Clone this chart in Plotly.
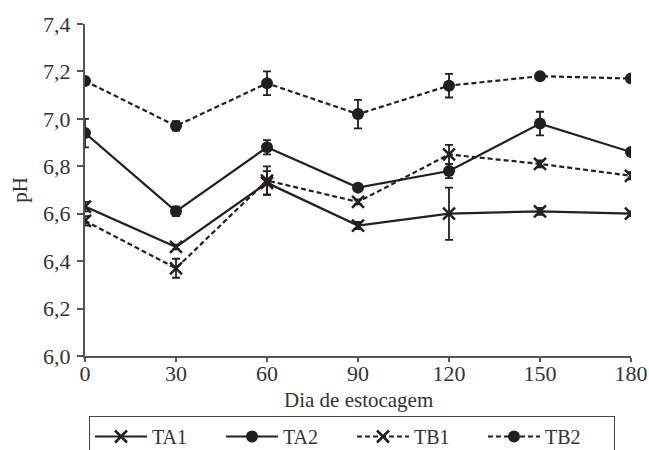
import plotly.graph_objects as go

days = [0, 30, 60, 90, 120, 150, 180]
ta1 = [6.63, 6.46, 6.73, 6.55, 6.60, 6.61, 6.60]
ta1_err = [0.02, 0.01, 0.05, 0.015, 0.11, 0.015, 0.01]
ta2 = [6.94, 6.61, 6.88, 6.71, 6.78, 6.98, 6.86]
ta2_err = [0.06, 0.02, 0.03, 0.015, 0.03, 0.05, 0.015]
tb1 = [6.57, 6.37, 6.74, 6.65, 6.85, 6.81, 6.76]
tb1_err = [0.02, 0.04, 0.06, 0.01, 0.04, 0.015, 0.015]
tb2 = [7.16, 6.97, 7.15, 7.02, 7.14, 7.18, 7.17]
tb2_err = [0.01, 0.02, 0.05, 0.06, 0.05, 0.01, 0.015]

LC = "#231f20"
series = [
    ("TA1", ta1, ta1_err, "solid", "x-thin"),
    ("TA2", ta2, ta2_err, "solid", "circle"),
    ("TB1", tb1, tb1_err, "5px,3px", "x-thin"),
    ("TB2", tb2, tb2_err, "5px,3px", "circle"),
]

fig = go.Figure()
for name, y, e, dash, sym in series:
    if sym == "circle":
        marker = dict(symbol="circle", size=12, color=LC)
    else:
        marker = dict(symbol="x-thin", size=12, color=LC, line=dict(color=LC, width=2.5))
    fig.add_trace(go.Scatter(
        x=days, y=y, name=name, mode="lines+markers",
        line=dict(color=LC, width=2.2, dash=dash),
        marker=marker,
        error_y=dict(type="data", array=e, visible=True, color=LC, thickness=1.8, width=4),
    ))

FAM = "Liberation Serif, Times New Roman, serif"
TXT = "#333333"
W, H = 649, 450
fig.update_layout(
    width=W, height=H,
    margin=dict(l=85, r=18, t=24, b=94),
    plot_bgcolor="white", paper_bgcolor="white",
    separators=",.",
    font=dict(family=FAM, color=TXT, size=21),
    showlegend=True,
    legend=dict(orientation="h", xref="container", yref="container",
                x=89/W, xanchor="left", y=1 - 416/H, yanchor="top",
                bordercolor="#444444", borderwidth=1, entrywidth=64, itemwidth=52,
                font=dict(family=FAM, size=20, color=TXT)),
    xaxis=dict(range=[0, 180], tickvals=days, showline=True, linecolor="#555555", linewidth=2,
               ticks="outside", ticklen=4, tickwidth=2, tickcolor="#555555", showgrid=False, zeroline=False,
               automargin=False, ticklabelstandoff=-7, tickfont=dict(size=22)),
    yaxis=dict(range=[6.0, 7.4], tickvals=[6.0, 6.2, 6.4, 6.6, 6.8, 7.0, 7.2, 7.4], tickformat=".1f",
               showline=True, linecolor="#555555", linewidth=2, automargin=False,
               ticks="outside", ticklen=6, tickwidth=2, tickcolor="#555555", showgrid=False, zeroline=False,
               ticklabelstandoff=2,
               title=dict(text="pH", standoff=10, font=dict(size=21)), tickfont=dict(size=22)),
    annotations=[dict(text="Dia de estocagem", xref="paper", yref="paper", x=0.5, y=(356 - 400) / 332,
                      xanchor="center", yanchor="middle", showarrow=False,
                      font=dict(family=FAM, size=21, color=TXT))],
)
fig.write_html("out.html", config={"displayModeBar": False},
               post_script="document.body.style.margin='0';document.body.style.overflow='hidden';")
